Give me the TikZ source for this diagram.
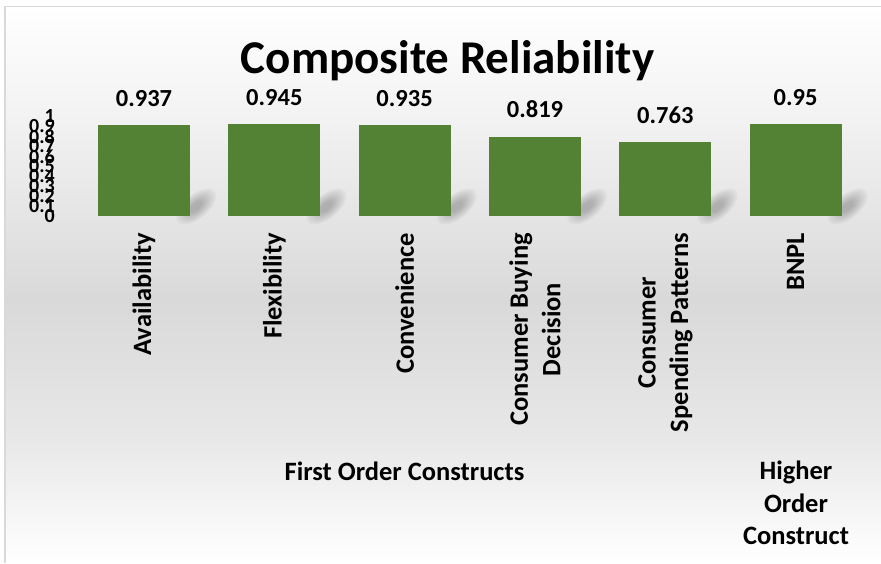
\documentclass[tikz,border=0pt]{standalone}
\usepackage{fontspec}
\setmainfont{Carlito}
\definecolor{barg}{HTML}{548235}
\definecolor{edgeg}{HTML}{D9D9D9}
\definecolor{bgA}{HTML}{F2F2F2}
\definecolor{bgB}{HTML}{D9D9D9}
\definecolor{bgC}{HTML}{E8E8E8}
\pgfdeclarelayer{back}
\pgfdeclarelayer{shad}
\pgfsetlayers{back,shad,main}
\newcommand\barshadowblob[1]{%
  \foreach \s in {1,0.9,0.8,0.7,0.6,0.5,0.4,0.3}{%
    \fill[black,opacity=0.03] ([shift={(6pt,10pt)}]#1.south east) circle[x radius=\s*24pt, y radius=\s*12pt, rotate=40];
  }%
}
\begin{document}
\begin{tikzpicture}[x=1pt,y=-1pt,
  bar/.style={fill=barg, draw=none, minimum width=92pt, inner sep=0pt, anchor=south},
  val/.style={font=\fontsize{24.5}{29}\selectfont\bfseries, anchor=base, inner sep=0pt},
  cat/.style={font=\fontsize{26.5}{32.5}\selectfont\bfseries, rotate=90, anchor=east, align=center, inner sep=0pt},
  grp/.style={font=\fontsize{26.5}{32.5}\selectfont\bfseries, align=center, inner sep=0pt},
  ylab/.style={font=\fontsize{20}{24}\selectfont\bfseries, anchor=east, inner sep=0pt},
  ttl/.style={font=\fontsize{47}{56}\selectfont\bfseries, anchor=base, inner sep=0pt},
]
\useasboundingbox (0,0) rectangle (881,563);
\begin{pgfonlayer}{back}
  \fill[white] (0,0) rectangle (881,563);
  \shade[top color=white, bottom color=bgA] (5,6.5) rectangle (881,120.5);
  \shade[top color=bgA, bottom color=bgB] (5,120) rectangle (881,300.5);
  \shade[top color=bgB, bottom color=bgC] (5,300) rectangle (881,440.5);
  \shade[top color=bgC, bottom color=white] (5,440) rectangle (881,563);
  \draw[edgeg, line width=1.3pt] (5,563) -- (5,6.5) -- (881,6.5);
\end{pgfonlayer}

% title
\node[ttl] (title) at (447.5,73) {Composite Reliability};

% y-axis labels
\foreach \v/\t [count=\i] in {0/0,0.1/0.1,0.2/0.2,0.3/0.3,0.4/0.4,0.5/0.5,0.6/0.6,0.7/0.7,0.8/0.8,0.9/0.9,1/1}{
  \node[ylab] (y\i) at (55,{216.5-\v*100}) {\t};
}

% bars
\node[bar, minimum height=91.17pt] (b1) at (144.0,216.5) {};
\node[bar, minimum height=91.95pt] (b2) at (274.3,216.5) {};
\node[bar, minimum height=90.98pt] (b3) at (404.6,216.5) {};
\node[bar, minimum height=79.69pt] (b4) at (535.0,216.5) {};
\node[bar, minimum height=74.24pt] (b5) at (665.3,216.5) {};
\node[bar, minimum height=92.44pt] (b6) at (795.6,216.5) {};

\begin{pgfonlayer}{shad}
  \barshadowblob{b1}
  \barshadowblob{b2}
  \barshadowblob{b3}
  \barshadowblob{b4}
  \barshadowblob{b5}
  \barshadowblob{b6}
\end{pgfonlayer}

% value labels
\node[val] (v1) at ([yshift=18.5pt]b1.north) {0.937};
\node[val] (v2) at ([yshift=18.5pt]b2.north) {0.945};
\node[val] (v3) at ([yshift=18.5pt]b3.north) {0.935};
\node[val] (v4) at ([yshift=18.5pt]b4.north) {0.819};
\node[val] (v5) at ([yshift=18.5pt]b5.north) {0.763};
\node[val] (v6) at ([yshift=18.5pt]b6.north) {0.95};

% category labels
\node[cat] (c1) at (144.0,233) {Availability};
\node[cat] (c2) at (274.3,233) {Flexibility};
\node[cat] (c3) at (404.6,233) {Convenience};
\node[cat] (c4) at (535.0,233) {Consumer Buying\\Decision};
\node[cat] (c5) at (665.3,233) {Consumer\\Spending Patterns};
\node[cat] (c6) at (795.6,233) {BNPL};

% group labels
\node[grp, anchor=base] (g1) at (404.5,480) {First Order Constructs};
\node[grp, anchor=north] (g2) at (796,461) {Higher\\Order\\Construct};
\end{tikzpicture}
\end{document}
